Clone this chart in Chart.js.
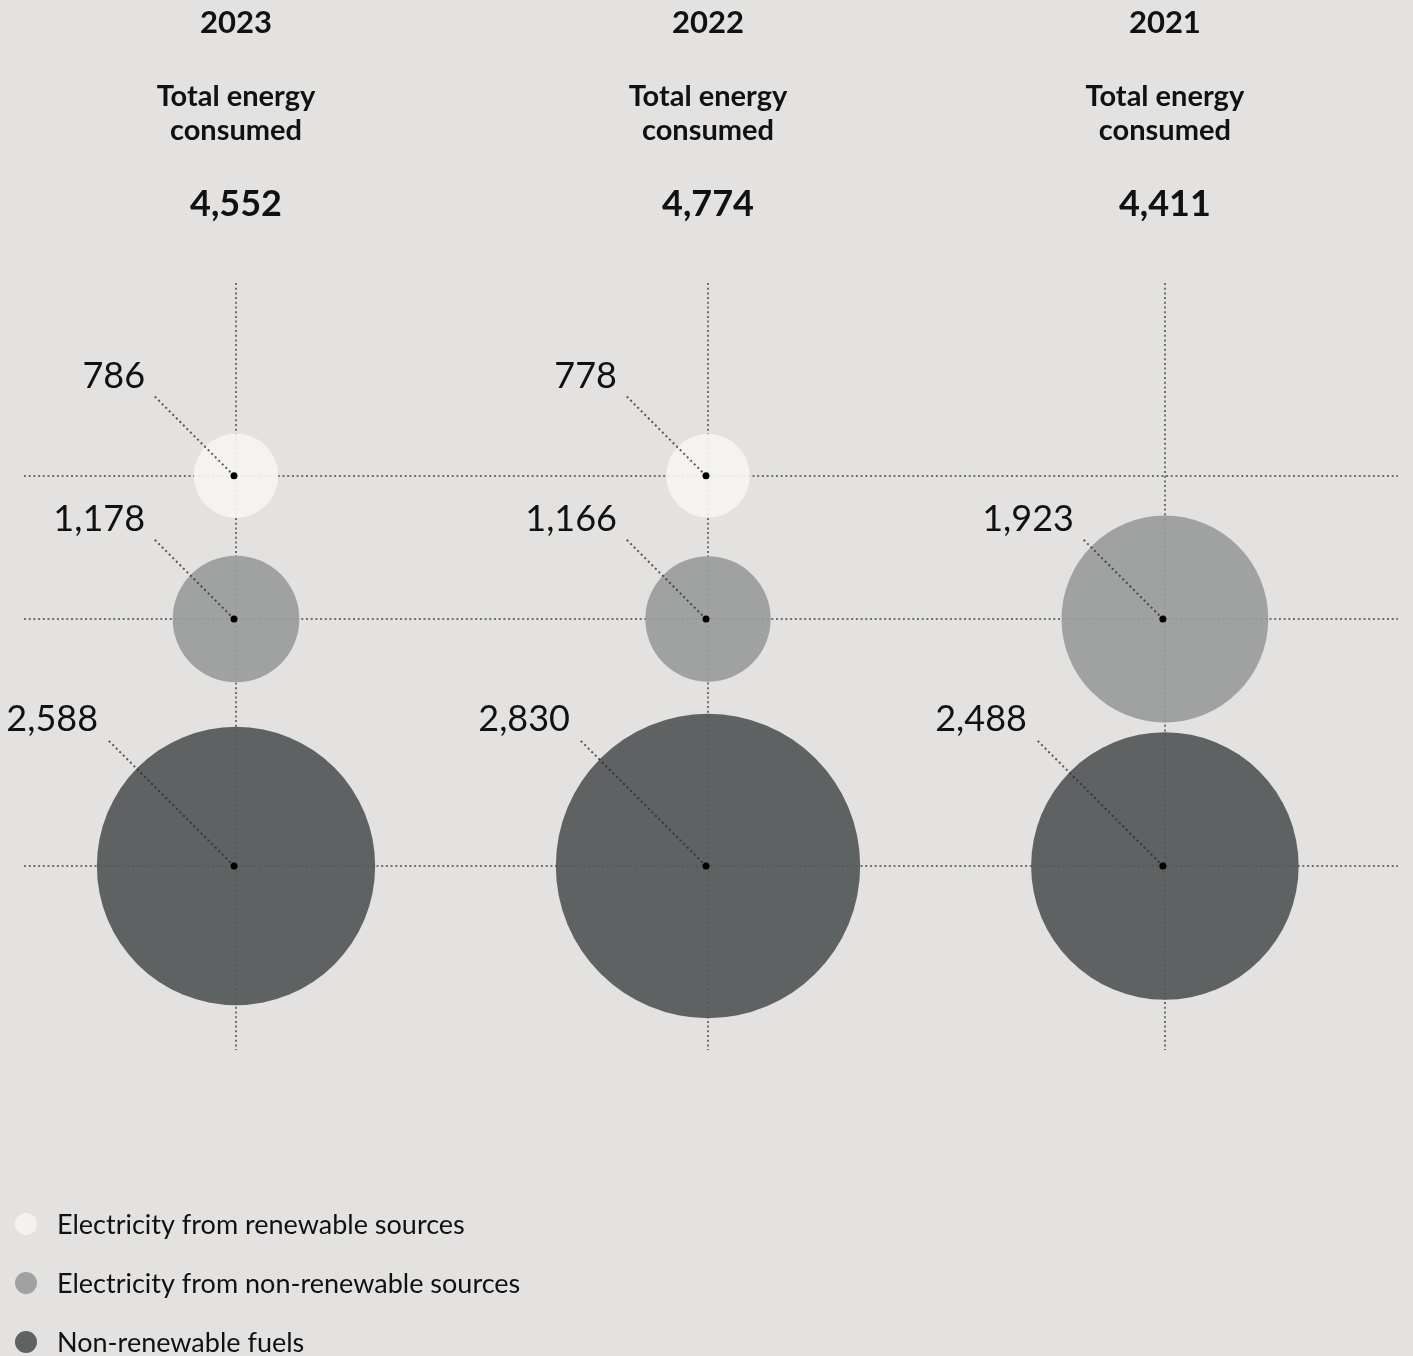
<!DOCTYPE html>
<html lang="en">
  <head>
    <meta charset="UTF-8" />
    <title>Total energy consumed</title>
    <script src="https://cdn.jsdelivr.net/npm/chart.js@4.4.1/dist/chart.umd.min.js"></script>
  </head>

  <style>
    html,
    body {
      margin: 0;
      padding: 0;
      background: #e3e2e0;
    }

    canvas {
      display: block;
    }
  </style>

  <body>
    <canvas id="chart_id" width="1413" height="1356"></canvas>
    <script>
      // data points
      const years = ["2023", "2022", "2021"];
      const totals = [4552, 4774, 4411];
      const seriesNames = [
        "Electricity from renewable sources",
        "Electricity from non-renewable sources",
        "Non-renewable fuels",
      ];
      const renewableElec = [786, 778, null];
      const nonRenewableElec = [1178, 1166, 1923];
      const nonRenewableFuels = [2588, 2830, 2488];

      // layout / style
      const colLevels = [0, 1, 1.968]; // horizontal position of each year column
      const rowLevels = [1.58, 1, 0]; // vertical position of each series row
      const colors = ["rgba(245,244,241,0.92)", "rgba(154,156,155,0.92)", "rgba(82,87,88,0.92)"];
      const legendColors = ["#f3f2ef", "#a0a2a1", "#5e6263"];
      const leaderLen = [80, 80, 127];
      const pxPerUnit = 18.6; // bubble radius = value / 18.6
      const FONT = "Lato, 'Open Sans', sans-serif";

      const fmt = (v) => v.toLocaleString("en-US");

      function makeDataset(label, values, row) {
        let points = [];
        values.forEach(function (v, i) {
          if (v == null) return;
          points.push({ x: colLevels[i], y: rowLevels[row], r: v / pxPerUnit, value: v });
        });
        return {
          label: label,
          data: points,
          backgroundColor: colors[row],
          borderWidth: 0,
          hoverBorderWidth: 0,
          clip: false,
        };
      }

      let data = {
        datasets: [
          makeDataset(seriesNames[0], renewableElec, 0),
          makeDataset(seriesNames[1], nonRenewableElec, 1),
          makeDataset(seriesNames[2], nonRenewableFuels, 2),
        ],
      };

      // headers, leader lines, value labels, legend
      const annotations = {
        id: "annotations",
        afterDatasetsDraw(chart) {
          const ctx = chart.ctx;
          const xs = chart.scales.x;
          const ys = chart.scales.y;
          ctx.save();

          // column headers
          ctx.fillStyle = "#111";
          ctx.textAlign = "center";
          ctx.textBaseline = "alphabetic";
          years.forEach(function (yr, i) {
            const cx = xs.getPixelForValue(colLevels[i]);
            ctx.font = "bold 31px " + FONT;
            ctx.fillText(yr, cx, 33);
            ctx.font = "bold 29px " + FONT;
            ctx.fillText("Total energy", cx, 106);
            ctx.fillText("consumed", cx, 140);
            ctx.font = "bold 36px " + FONT;
            ctx.fillText(fmt(totals[i]), cx, 216);
          });

          // leaders + labels
          chart.data.datasets.forEach(function (ds, di) {
            ds.data.forEach(function (p) {
              const px = xs.getPixelForValue(p.x) - 2;
              const py = ys.getPixelForValue(p.y);
              const L = leaderLen[di];
              ctx.strokeStyle = "rgba(40,40,40,0.75)";
              ctx.lineWidth = 2;
              ctx.setLineDash([2, 3]);
              ctx.beginPath();
              ctx.moveTo(px, py);
              ctx.lineTo(px - L, py - L);
              ctx.stroke();
              ctx.setLineDash([]);

              ctx.fillStyle = "#000";
              ctx.beginPath();
              ctx.arc(px, py, 3.5, 0, Math.PI * 2);
              ctx.fill();

              ctx.font = "36px " + FONT;
              ctx.textAlign = "right";
              ctx.fillStyle = "#111";
              ctx.fillText(fmt(p.value), px - L - 9, py - L - 8);
            });
          });

          // legend
          ctx.textAlign = "left";
          ctx.font = "27px " + FONT;
          chart.data.datasets.forEach(function (ds, di) {
            const ly = 1224 + di * 59;
            ctx.fillStyle = legendColors[di];
            ctx.beginPath();
            ctx.arc(26, ly, 11, 0, Math.PI * 2);
            ctx.fill();
            ctx.fillStyle = "#111";
            ctx.textBaseline = "middle";
            ctx.fillText(ds.label, 57, ly + 1);
          });
          ctx.restore();
        },
      };

      const gridStyle = {
        color: "rgba(100,100,100,0.9)",
        lineWidth: 2,
        drawTicks: false,
      };

      let optionsSet = {
        animation: false,
        responsive: false,
        devicePixelRatio: 1,
        events: [],
        layout: { autoPadding: false, padding: { left: 24, right: 15, top: 283, bottom: 306 } },
        plugins: { legend: { display: false }, tooltip: { enabled: false } },
        scales: {
          x: {
            type: "linear",
            min: -0.4492,
            max: 2.4619,
            afterBuildTicks: (s) => (s.ticks = colLevels.map((v) => ({ value: v }))),
            ticks: { display: false },
            grid: gridStyle,
            border: { display: false, dash: [2, 2.7] },
          },
          y: {
            type: "linear",
            min: -0.7449,
            max: 2.3603,
            afterBuildTicks: (s) => (s.ticks = rowLevels.map((v) => ({ value: v }))),
            ticks: { display: false },
            grid: gridStyle,
            border: { display: false, dash: [2, 2.7] },
          },
        },
      };

      function draw() {
        let ctx = document.getElementById("chart_id").getContext("2d");
        new Chart(ctx, {
          type: "bubble",
          data: data,
          options: optionsSet,
          plugins: [annotations],
        });
      }

      if (document.fonts && document.fonts.load) {
        Promise.all([
          document.fonts.load("36px Lato"),
          document.fonts.load("bold 30px Lato"),
        ]).then(draw, draw);
      } else {
        draw();
      }
    </script>
  </body>
</html>
